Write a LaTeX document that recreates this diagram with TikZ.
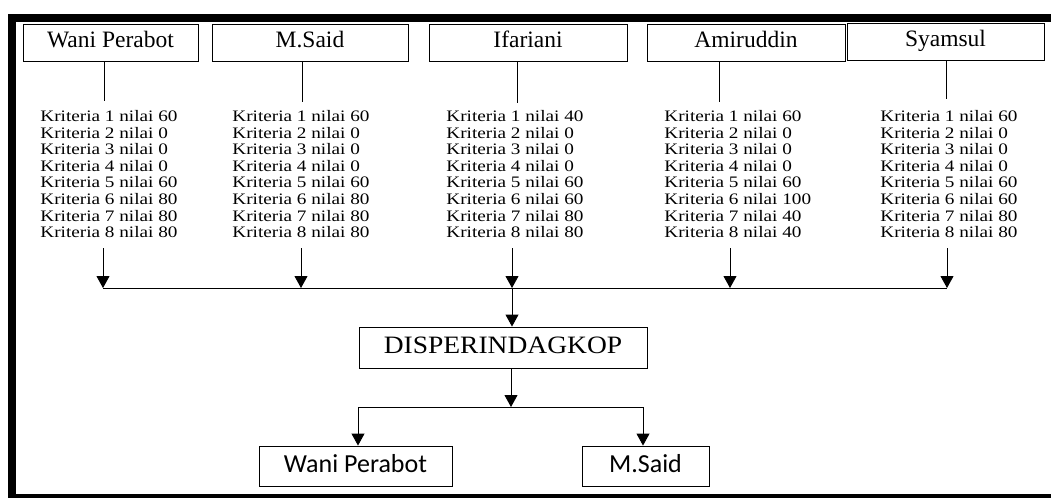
\documentclass[tikz,border=0pt]{standalone}
\usepackage{fontspec}
\setmainfont{Liberation Serif}
\newfontfamily\listfont[FakeStretch=1.2]{Liberation Serif}
\newfontfamily\dispfont[FakeStretch=1.1]{Liberation Serif}
\newfontfamily\calibrifont{Carlito}
\usetikzlibrary{arrows.meta, calc}

\begin{document}
\begin{tikzpicture}[x=1pt, y=-1pt, line width=0.9pt,
        namebox/.style={draw, inner sep=0pt, minimum height=37pt, text height=15pt, text depth=5pt, font=\fontsize{23.5}{26}\selectfont},
        listbox/.style={anchor=north west, align=left, inner sep=0pt, font=\listfont\fontsize{16}{16.6}\selectfont},
        resultbox/.style={draw, inner sep=0pt, minimum height=40pt, text height=16pt, text depth=4pt, font=\calibrifont\fontsize{26}{28}\selectfont},
        arr/.style={-{Triangle[width=13pt, length=12pt]}}]
        \useasboundingbox (0,0) rectangle (1051,498);
        
        % frame
        \fill (8,14) rectangle (16,498);
        \fill (8,14) rectangle (1051,22);
        \fill (8,494) rectangle (1051,498);
        
        % top boxes
        \node[namebox, minimum width=175pt] (wani) at (110.5,42.5) {Wani Perabot};
        \node[namebox, minimum width=196pt] (said) at (310,42.5) {M.Said};
        \node[namebox, minimum width=198pt] (ifa) at (528,42.5) {Ifariani};
        \node[namebox, minimum width=198pt] (amir) at (746,42.5) {Amiruddin};
        \node[namebox, minimum width=197pt] (syam) at (945.5,41.5) {Syamsul};
        
        \coordinate (s1) at (104,101);
        \coordinate (s2) at (302,102);
        \coordinate (s3) at (517,103);
        \coordinate (s4) at (719,102);
        \coordinate (s5) at (946,99);
        \draw (wani.south -| s1) -- (s1);
        \draw (said.south -| s2) -- (s2);
        \draw (ifa.south -| s3) -- (s3);
        \draw (amir.south -| s4) -- (s4);
        \draw (syam.south -| s5) -- (s5);
        
        % nilai per kriteria
        \node[listbox] (list1) at (40,110) {Kriteria 1 nilai 60\\Kriteria 2 nilai 0\\Kriteria 3 nilai 0\\Kriteria 4 nilai 0\\Kriteria 5 nilai 60\\Kriteria 6 nilai 80\\Kriteria 7 nilai 80\\Kriteria 8 nilai 80};
        \node[listbox] (list2) at (232,110) {Kriteria 1 nilai 60\\Kriteria 2 nilai 0\\Kriteria 3 nilai 0\\Kriteria 4 nilai 0\\Kriteria 5 nilai 60\\Kriteria 6 nilai 80\\Kriteria 7 nilai 80\\Kriteria 8 nilai 80};
        \node[listbox] (list3) at (446,110) {Kriteria 1 nilai 40\\Kriteria 2 nilai 0\\Kriteria 3 nilai 0\\Kriteria 4 nilai 0\\Kriteria 5 nilai 60\\Kriteria 6 nilai 60\\Kriteria 7 nilai 80\\Kriteria 8 nilai 80};
        \node[listbox] (list4) at (664,110) {Kriteria 1 nilai 60\\Kriteria 2 nilai 0\\Kriteria 3 nilai 0\\Kriteria 4 nilai 0\\Kriteria 5 nilai 60\\Kriteria 6 nilai 100\\Kriteria 7 nilai 40\\Kriteria 8 nilai 40};
        \node[listbox] (list5) at (880,110) {Kriteria 1 nilai 60\\Kriteria 2 nilai 0\\Kriteria 3 nilai 0\\Kriteria 4 nilai 0\\Kriteria 5 nilai 60\\Kriteria 6 nilai 60\\Kriteria 7 nilai 80\\Kriteria 8 nilai 80};
        
        % arrows to the collecting line
        \coordinate (a1) at (103,248);
        \coordinate (a2) at (301,248);
        \coordinate (a3) at (512,248);
        \coordinate (a4) at (730,248);
        \coordinate (a5) at (947,248);
        \coordinate (busl) at (103,288);
        \coordinate (busr) at (947,288);
        \draw (busl) -- (busr);
        \draw[arr] (a1) -- (a1 |- busl);
        \draw[arr] (a2) -- (a2 |- busl);
        \draw[arr] (a3) -- (a3 |- busl);
        \draw[arr] (a4) -- (a4 |- busl);
        \draw[arr] (a5) -- (a5 |- busl);
        
        \node[namebox, minimum width=288pt, minimum height=41pt, text height=16pt, font=\dispfont\fontsize{25}{28}\selectfont] (disp) at (503,347.5) {DISPERINDAGKOP};
        \draw[arr] (a3 |- busl) -- (a3 |- disp.north);
        
        % hasil
        \node[resultbox, minimum width=193pt] (hasil1) at (355.5,466) {Wani Perabot};
        \node[resultbox, minimum width=127pt] (hasil2) at (645.5,466) {M.Said};
        
        \coordinate (fork) at (511,407);
        \coordinate (forkl) at (358,407);
        \coordinate (forkr) at (643,407);
        \draw[arr] (disp.south -| fork) -- (fork);
        \draw (forkl) -- (forkr);
        \draw[arr] (forkl) -- (forkl |- hasil1.north);
        \draw[arr] (forkr) -- (forkr |- hasil2.north);
    \end{tikzpicture}
\end{document}
